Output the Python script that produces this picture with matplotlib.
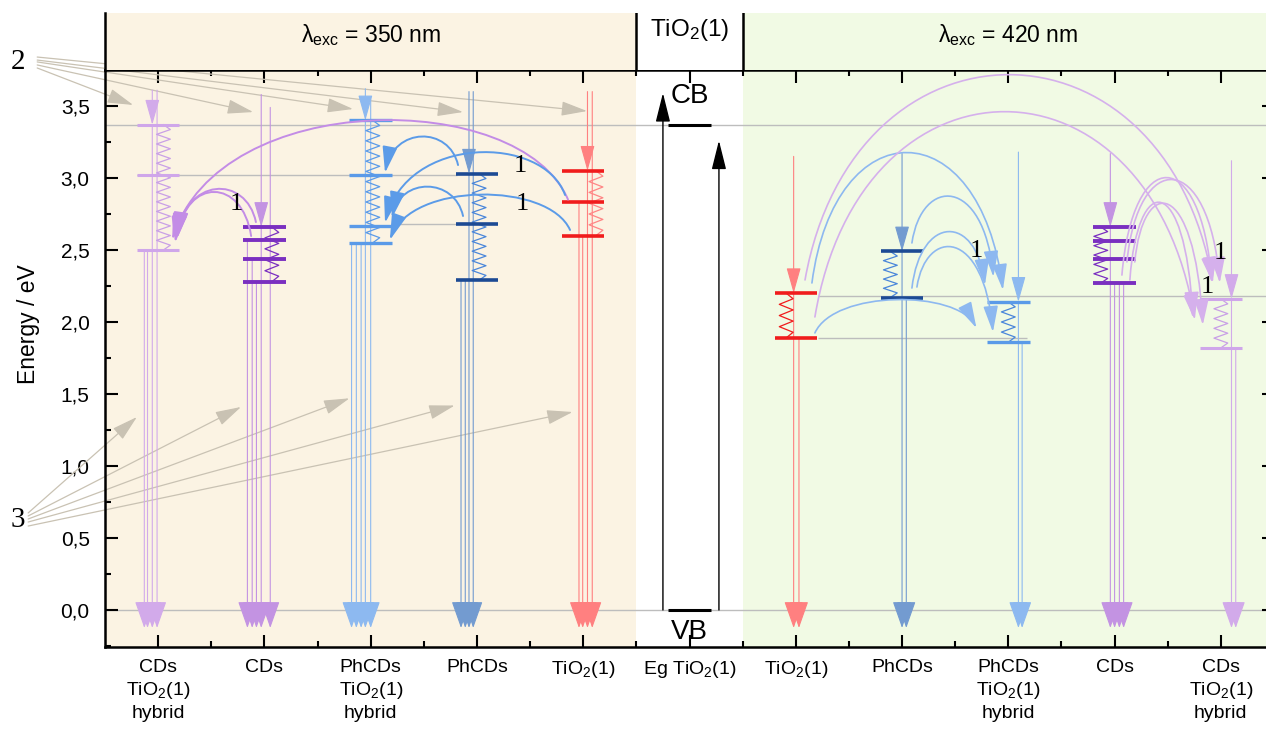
import numpy as np
import matplotlib.pyplot as plt
from matplotlib.patches import FancyArrowPatch
from matplotlib.path import Path
from matplotlib.ticker import FuncFormatter, MultipleLocator

plt.rcParams["font.family"] = ["Liberation Sans", "DejaVu Sans"]
plt.rcParams["mathtext.default"] = "regular"

# category axis
positions = list(range(1, 12))
labels = ["CDs\nTiO$_2$(1)\nhybrid", "CDs", "PhCDs\nTiO$_2$(1)\nhybrid", "PhCDs",
          "TiO$_2$(1)", "Eg TiO$_2$(1)", "TiO$_2$(1)", "PhCDs",
          "PhCDs\nTiO$_2$(1)\nhybrid", "CDs", "CDs\nTiO$_2$(1)\nhybrid"]

# energy levels (eV), excitation 350 nm
lv_cds_hyb_350 = [3.37, 3.02, 2.50]
lv_cds_350 = [2.66, 2.57, 2.44, 2.28]
lv_phcds_hyb_350 = [3.40, 3.02, 2.67, 2.55]
lv_phcds_350 = [3.03, 2.68, 2.29]
lv_tio2_350 = [3.05, 2.83, 2.60]
# energy levels (eV), excitation 420 nm
lv_tio2_420 = [2.20, 1.89]
lv_phcds_420 = [2.49, 2.17]
lv_phcds_hyb_420 = [2.14, 1.86]
lv_cds_420 = [2.66, 2.56, 2.44, 2.27]
lv_cds_hyb_420 = [2.16, 1.82]
# TiO2(1) band gap
eg_cb = 3.37
eg_vb = 0.0
eg_arrow_tops = [3.59, 3.26]

# top of excitation arrow per sample column
exc_top = [3.61, 3.58, 3.62, 3.60, 3.60, 3.15, 3.17, 3.18, 3.17, 3.12]

# energy transfer arcs: (start, end, apex energy)
arcs_violet_350 = [((4.857, 2.85), (1.132, 2.57), 3.396),
                   ((1.92, 2.694), (1.16, 2.55), 2.92),
                   ((1.875, 2.597), (1.18, 2.58), 2.90)]
arcs_blue_350 = [((3.822, 3.09), (3.135, 3.035), 3.285),
                 ((4.829, 2.882), (3.135, 2.688), 3.174),
                 ((3.869, 2.736), (3.20, 2.722), 2.937),
                 ((4.876, 2.639), (3.18, 2.569), 2.882)]
arcs_blue_420 = [((7.152, 2.271), (8.949, 2.222), 3.174),
                 ((8.093, 2.549), (8.86, 2.313), 2.868),
                 ((8.093, 2.236), (8.78, 2.257), 2.625),
                 ((8.14, 2.243), (8.855, 1.93), 2.514),
                 ((7.18, 1.924), (8.70, 1.958), 2.153)]
arcs_violet_420 = [((7.087, 2.292), (10.925, 2.271), 3.715),
                   ((7.18, 2.035), (10.755, 2.014), 3.458),
                   ((10.069, 2.326), (10.915, 2.271), 3.0),
                   ((10.116, 2.417), (10.99, 2.271), 2.986),
                   ((10.144, 2.292), (10.737, 2.028), 2.826),
                   ((10.19, 2.417), (10.83, 1.979), 2.812)]
label1_pos = [(1.74, 2.82), (4.41, 3.08), (4.43, 2.82), (8.70, 2.49), (10.99, 2.48), (10.87, 2.24)]

# pointer arrows for labels 2 and 3
label2_pos = (-0.317, 3.806)
ptr2_start = [(-0.138, 3.764), (-0.138, 3.785), (-0.138, 3.806), (-0.138, 3.819), (-0.138, 3.84)]
ptr2_tip = [(0.765, 3.507), (1.894, 3.458), (2.834, 3.479), (3.869, 3.458), (5.036, 3.465)]
label3_pos = (-0.317, 0.625)
ptr3_start = [(-0.223, 0.674), (-0.223, 0.653), (-0.223, 0.632), (-0.223, 0.611), (-0.223, 0.583)]
ptr3_tip = [(0.80, 1.34), (1.78, 1.41), (2.80, 1.47), (3.79, 1.42), (4.90, 1.375)]

BEIGE = "#FBF3E3"
GREEN = "#F1FAE4"
GRAY = "#C9C2B3"
TIP = -0.125


def arrow(ax, p0, p1, color, lw=0.8, hl=15, hw=4, z=3, clip=True):
    a = FancyArrowPatch(p0, p1, arrowstyle=f"-|>,head_length={hl},head_width={hw}",
                        mutation_scale=1, shrinkA=0, shrinkB=0, color=color, lw=lw,
                        zorder=z, clip_on=clip)
    ax.add_patch(a)


def arc(ax, p0, p3, peak, color, lw=1.3, hl=16, hw=4.5, f=0.12):
    yc = (8 * peak - p0[1] - p3[1]) / 6
    dx = p3[0] - p0[0]
    verts = [p0, (p0[0] + f * dx, yc), (p3[0] - f * dx, yc), p3]
    path = Path(verts, [Path.MOVETO, Path.CURVE4, Path.CURVE4, Path.CURVE4])
    a = FancyArrowPatch(path=path, arrowstyle=f"-|>,head_length={hl},head_width={hw}",
                        mutation_scale=1, color=color, lw=lw, zorder=6)
    ax.add_patch(a)


def zigzag(ax, x, top, bottom, color, amp=0.065, lw=0.9):
    n = max(2, int(round((top - bottom) * 144 / 10)))
    ys = np.linspace(top, bottom, 2 * n + 1)
    xs = x + amp * np.array([0] + [(-1) ** k for k in range(2 * n - 1)] + [0])
    ax.plot(xs, ys, color=color, lw=lw, zorder=4)


columns = [
    dict(x=1, lv=lv_cds_hyb_350, bar="#CFA6EA", zig="#C9A0E6", head="#D2AAEA", bw=2.2,
         zx=0.05, ex=-0.055, thru=(-0.01, 3.61), extra=[(-0.13, 2.50), (-0.10, 2.50)]),
    dict(x=2, lv=lv_cds_350, bar="#7A2FC0", zig="#7A2FC0", head="#C393E2", bw=2.8,
         zx=0.07, ex=-0.03, thru=(0.055, 3.49), extra=[(-0.16, 2.57), (-0.115, 2.44), (-0.075, 2.28)]),
    dict(x=3, lv=lv_phcds_hyb_350, bar="#5A9AE8", zig="#5A9AE8", head="#8DB9F0", bw=2.4,
         zx=0.02, ex=-0.05, thru=(0.0, 3.55), extra=[(-0.18, 2.55), (-0.135, 2.55), (-0.09, 2.55)]),
    dict(x=4, lv=lv_phcds_350, bar="#1C4A94", zig="#4A86DA", head="#739BD0", bw=2.6,
         zx=0.02, ex=-0.075, thru=(-0.035, 3.60), extra=[(-0.15, 2.29), (-0.11, 2.29)]),
    dict(x=5, lv=lv_tio2_350, bar="#F01C1C", zig="#FF8585", head="#FF8080", bw=2.6,
         zx=0.12, ex=0.04, thru=(0.085, 3.60), extra=[(-0.04, 2.83), (-0.005, 2.60)]),
    dict(x=7, lv=lv_tio2_420, bar="#F01C1C", zig="#F01C1C", head="#FF8080", bw=2.6,
         zx=-0.09, ex=-0.02, thru=(0.03, 1.89), extra=[]),
    dict(x=8, lv=lv_phcds_420, bar="#1C4A94", zig="#4A86DA", head="#739BD0", bw=2.6,
         zx=-0.11, ex=0.0, thru=(0.04, 2.17), extra=[]),
    dict(x=9, lv=lv_phcds_hyb_420, bar="#5A9AE8", zig="#4A86DA", head="#8DB9F0", bw=2.4,
         zx=0.0, ex=0.095, thru=(0.13, 1.86), extra=[]),
    dict(x=10, lv=lv_cds_420, bar="#7A2FC0", zig="#7A2FC0", head="#C393E2", bw=2.8,
         zx=-0.13, ex=-0.04, thru=(0.0, 2.27), extra=[(0.045, 2.27), (0.085, 2.27)]),
    dict(x=11, lv=lv_cds_hyb_420, bar="#CFA6EA", zig="#C9A0E6", head="#D2AAEA", bw=2.2,
         zx=0.0, ex=0.10, thru=(0.14, 1.82), extra=[]),
]

W, H = 1266, 731
fig = plt.figure(figsize=(W / 100, H / 100), dpi=100)
ax = fig.add_axes([105 / W, (H - 647) / H, (1274 - 105) / W, (647 - 70) / H])
hax = fig.add_axes([105 / W, (H - 70) / H, (1274 - 105) / W, (70 - 13) / H])

# header strip
hax.set_xlim(0.5, 11.5)
hax.set_ylim(0, 1)
hax.axvspan(0.5, 5.5, color=BEIGE, lw=0)
hax.axvspan(6.5, 11.5, color=GREEN, lw=0)
hax.axvline(5.5, color="black", lw=1.8)
hax.axvline(6.5, color="black", lw=1.8)
for s in ["top", "right", "bottom"]:
    hax.spines[s].set_visible(False)
hax.spines["left"].set_linewidth(1.8)
hax.set_xticks([])
hax.set_yticks([])
hax.text(3, 0.62, "λ$_{exc}$ = 350 nm", ha="center", va="center", fontsize=16.5)
hax.text(6, 0.70, "TiO$_2$(1)", ha="center", va="center", fontsize=17.5)
hax.text(9, 0.62, "λ$_{exc}$ = 420 nm", ha="center", va="center", fontsize=16.5)

# main panel
ax.set_xlim(0.5, 11.5)
ax.set_ylim(-0.257, 3.75)
ax.axvspan(0.5, 5.5, color=BEIGE, lw=0, zorder=0)
ax.axvspan(6.5, 11.5, color=GREEN, lw=0, zorder=0)

guide_y = [eg_cb, 3.02, 2.68, eg_vb, 2.18, 1.89]
guide_x0 = [0.5, 0.8, 3.2, 0.5, 7.21, 7.21]
guide_x1 = [11.5, 3.81, 3.81, 11.5, 11.5, 9.18]
ax.hlines(guide_y, guide_x0, guide_x1, color="#BDBDBD", lw=1.0, zorder=1)

for c, top in zip(columns, exc_top):
    x, lv = c["x"], c["lv"]
    ax.hlines(lv, x - 0.2, x + 0.2, color=c["bar"], lw=c["bw"], zorder=5)
    zigzag(ax, x + c["zx"], lv[0], lv[-1], c["zig"])
    arrow(ax, (x + c["ex"], top), (x + c["ex"], lv[0]), c["head"], hl=16, hw=4.5)
    lines = [(c["ex"], lv[0]), c["thru"]] + c["extra"]
    for dx, start in lines:
        arrow(ax, (x + dx, start), (x + dx, TIP), c["head"], hl=17, hw=6)

# band gap column
ax.hlines([eg_cb, eg_vb], 5.8, 6.2, color="black", lw=2.2, zorder=5)
for dx, top in zip([-0.25, 0.277], eg_arrow_tops):
    arrow(ax, (6 + dx, eg_vb), (6 + dx, top), "black", lw=1.0, hl=18, hw=4.5)
ax.text(6, 3.57, "CB", ha="center", va="center", fontsize=20, zorder=7)
ax.text(6, -0.15, "VB", ha="center", va="center", fontsize=20, zorder=7)

# energy transfer arcs
for p0, p3, pk in arcs_violet_350:
    arc(ax, p0, p3, pk, "#C38CE6", lw=1.4)
for p0, p3, pk in arcs_blue_350:
    arc(ax, p0, p3, pk, "#5B9BE8", lw=1.4)
for p0, p3, pk in arcs_blue_420:
    arc(ax, p0, p3, pk, "#8DB8F0", lw=1.2)
for p0, p3, pk in arcs_violet_420:
    arc(ax, p0, p3, pk, "#D5B0EC", lw=1.2)
for lx, ly in label1_pos:
    ax.text(lx, ly, "1", family="Liberation Serif", fontsize=19, ha="center", va="center", zorder=7)

# pointer arrows 2 and 3
for s, t in zip(ptr2_start, ptr2_tip):
    arrow(ax, s, t, GRAY, lw=0.9, hl=16, hw=4.5, z=2, clip=False)
for s, t in zip(ptr3_start, ptr3_tip):
    arrow(ax, s, t, GRAY, lw=0.9, hl=16, hw=4.5, z=2, clip=False)
ax.text(*label2_pos, "2", family="Liberation Serif", fontsize=21, ha="center", va="center")
ax.text(*label3_pos, "3", family="Liberation Serif", fontsize=21, ha="center", va="center")

# axes styling
ax.set_xticks(positions)
ax.set_xticklabels(labels, fontsize=14, linespacing=1.25)
ax.set_xticks([p + 0.5 for p in positions[:-1]], minor=True)
ax.yaxis.set_major_locator(MultipleLocator(0.5))
ax.yaxis.set_minor_locator(MultipleLocator(0.25))
ax.yaxis.set_major_formatter(FuncFormatter(lambda v, _: f"{v:.1f}".replace(".", ",")))
ax.tick_params(which="both", direction="in", top=True, right=True, width=1.5,
               labeltop=False, labelright=False)
ax.tick_params(which="major", length=9)
ax.tick_params(which="minor", length=4.5)
ax.tick_params(axis="x", pad=9)
ax.tick_params(axis="y", pad=11, labelsize=15)
for s in ax.spines.values():
    s.set_linewidth(1.8)
ax.set_ylabel("Energy / eV", fontsize=16.5)
ax.yaxis.set_label_coords(-0.056, 0.56)

fig.savefig("out.png", dpi=100)
